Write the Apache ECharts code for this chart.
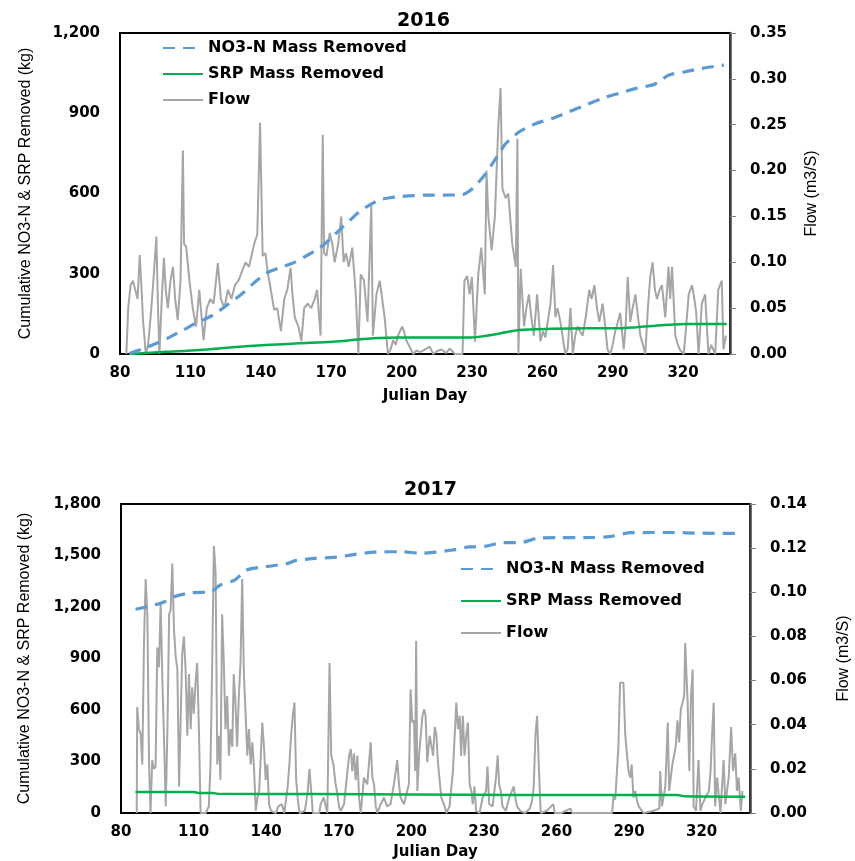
<!DOCTYPE html>
<html>
<head>
<meta charset="utf-8">
<script src="https://cdn.jsdelivr.net/npm/echarts@6/dist/echarts.min.js"></script>
<style>
html,body{margin:0;padding:0;background:#fff;}
#chart{width:855px;height:861px;}
</style>
</head>
<body>
<div id="chart"></div>
<script>
// ---------- data ----------
const legendNames = ['NO3-N Mass Removed', 'SRP Mass Removed', 'Flow'];
const xTicks = [80, 110, 140, 170, 200, 230, 260, 290, 320];

// 2016 cumulative NO3-N removed (kg) [julian day, kg]
const no3_2016 = [[84,2],[90,20],[95.6,40],[101,62],[107,90],[113,118],[119.7,146],[126,185],[132.4,228],[137,265],[142.4,302],[148,322],[153.7,340],[159,365],[165,396],[169,425],[173.6,464],[178,500],[182,532],[186,555],[190.6,576],[195,584],[199,588],[205,592],[210.5,594],[218,594],[226,596],[229,610],[231.8,632],[236,676],[239,715],[241.7,751],[244,782],[246,800],[250.2,831],[254,848],[257.3,862],[264.4,881],[271.5,906],[278.6,931],[285.7,956],[292.8,975],[299.9,993],[307,1006],[310,1020],[314,1043],[321,1055],[328,1068],[337.4,1080]];
// 2016 cumulative SRP removed (kg)
const srp_2016 = [[84,0],[100,8],[114,15],[128,25],[142.4,34],[156,40],[170.7,46],[180,53],[187.7,59],[199,62],[215,62],[229,62],[232.7,64],[238.4,71],[245.5,83],[250,90],[264,94],[278.6,96],[292.8,96],[300,100],[307,105],[314,109],[321,112],[338.6,112]];
// 2016 flow (m3/s)
const flow_2016 = [[82.7,0],[83.5,0.05],[84.5,0.075],[85.5,0.08],[86.5,0.07],[87.5,0.06],[88.4,0.108],[89.2,0.07],[89.8,0.037],[91,0],[92,0.01],[93.3,0.048],[94.5,0.09],[95.5,0.128],[96.2,0.05],[96.8,0],[97.8,0.06],[98.7,0.105],[99.5,0.07],[100.4,0.05],[101.5,0.08],[102.6,0.095],[103.5,0.06],[104.6,0.037],[105.8,0.08],[106.8,0.222],[107.3,0.12],[108.2,0.117],[109.6,0.08],[111,0.05],[112.4,0.03],[113.8,0.07],[115.6,0.015],[117,0.05],[118.5,0.06],[119.9,0.055],[121.7,0.099],[123,0.06],[124.5,0.05],[126,0.07],[127.5,0.06],[129,0.075],[130.5,0.08],[132,0.09],[133.5,0.1],[135,0.095],[136.3,0.11],[137.3,0.121],[138.5,0.13],[139.7,0.252],[140.8,0.107],[142,0.11],[142.9,0.09],[144.3,0.07],[145.7,0.048],[147,0.05],[148.6,0.025],[150,0.06],[151.3,0.07],[152.7,0.094],[153.5,0.065],[154.5,0.04],[156,0.03],[157.3,0.014],[158.5,0.05],[160,0.055],[161.5,0.05],[163,0.06],[164,0.07],[165.5,0.02],[166.4,0.239],[167,0.11],[168,0.107],[169.4,0.132],[170.5,0.12],[171.5,0.1],[173,0.12],[174.3,0.15],[175.3,0.1],[176.3,0.11],[177.5,0.095],[179,0.116],[180.5,0.065],[181.6,0],[182.6,0.087],[184,0.08],[185.5,0.035],[187.1,0.162],[187.8,0.02],[189.3,0.065],[190.7,0.08],[192.8,0.04],[194.2,0],[195.3,0.005],[196.4,0.015],[197.5,0.01],[198.5,0.02],[200.3,0.03],[201,0.025],[202,0.015],[203.4,0.008],[205,0],[206.3,0.004],[208,0.002],[210,0.005],[212,0.008],[213.5,0],[215,0.003],[217,0.005],[219,0.001],[220.5,0.006],[222.7,0],[226,0],[226.8,0.08],[228,0.085],[229,0.065],[230,0.084],[231.3,0.0135],[232.7,0.087],[234,0.116],[235.5,0.065],[236.2,0.2],[237,0.15],[238.4,0.113],[239.8,0.15],[241.2,0.246],[242.2,0.29],[243,0.18],[244.4,0.17],[245.5,0.175],[247.2,0.12],[248.7,0.095],[249.4,0.235],[249.8,0],[250.8,0.093],[252.2,0.03],[253.2,0.05],[254.3,0.065],[255.3,0.04],[256.4,0.02],[257.8,0.065],[259.2,0.014],[260.3,0.025],[261.3,0.018],[263.5,0.055],[264.6,0.097],[265.6,0.04],[266.5,0.05],[267.7,0.035],[269.8,0],[270.8,0.005],[272,0.05],[273,0],[274,0.02],[275,0.03],[276,0.025],[277.2,0.02],[278.5,0.04],[280,0.07],[281,0.06],[282.2,0.075],[283.3,0.05],[284.3,0.035],[285.7,0.055],[286.8,0.03],[287.8,0.005],[289,0],[290,0.01],[291.1,0.025],[292.2,0.035],[293.2,0.045],[294.7,0.005],[295.5,0.03],[296.4,0.084],[297.5,0.035],[298.5,0.05],[299.7,0.065],[300.8,0.04],[301.8,0.02],[302.9,0.01],[303.9,0],[305,0.05],[306,0.084],[307,0.1],[308,0.07],[308.9,0.06],[310,0.07],[311,0.075],[312.4,0.04],[313.8,0.095],[314.5,0.06],[315.3,0.095],[316.7,0.02],[317.8,0.01],[318.8,0.004],[320.3,0],[321.3,0.03],[322.4,0.065],[323.8,0.075],[324.8,0.06],[325.6,0.045],[326.6,0],[328,0.055],[329.4,0.065],[330.8,0],[332,0.01],[333.7,0],[335,0.07],[336.5,0.08],[337.2,0.005],[338.3,0.02]];

// 2017 cumulative NO3-N removed (kg)
const no3_2017 = [[86,1187],[94,1212],[98,1231],[102,1260],[109,1283],[117,1289],[121,1328],[127,1357],[132,1415],[140,1435],[149,1454],[152,1470],[160,1483],[169,1490],[176,1505],[185,1520],[196,1522],[204,1513],[210,1520],[217,1532],[224,1550],[231,1555],[238,1575],[245,1575],[252,1600],[260,1604],[272,1604],[282,1610],[291,1633],[307,1634],[320,1630],[336,1629]];
// 2017 cumulative SRP removed (kg)
const srp_2017 = [[86,122],[110,122],[112,117],[118,117],[120,112],[160,110],[200,108],[245,105],[310,105],[313,97],[338,95]];
// 2017 flow (m3/s)
const flow_2017 = [[86.5,0],[86.7,0.048],[87.4,0.038],[88.1,0.036],[88.8,0.022],[89.5,0.077],[90.2,0.106],[90.9,0.09],[91.6,0.022],[92.2,0],[92.9,0.024],[93.6,0.02],[94.3,0.021],[95,0.075],[95.7,0.066],[96.4,0.095],[97.1,0.06],[97.8,0.033],[98.5,0.003],[99.2,0.038],[99.9,0.09],[100.5,0.092],[101.2,0.113],[101.9,0.083],[102.6,0.071],[103.3,0.065],[104,0.012],[104.6,0.012],[105.3,0.072],[106,0.08],[106.7,0.065],[107.4,0.035],[108.1,0.063],[108.8,0.038],[109.4,0.057],[110.1,0.045],[110.8,0.059],[111.5,0.068],[112.2,0.038],[112.9,0],[115,0],[116.3,0.003],[117,0.022],[117.7,0.068],[118.4,0.121],[119.1,0.109],[119.8,0.022],[120.5,0.035],[121.1,0.015],[121.8,0.09],[122.5,0.068],[123.2,0.038],[123.9,0.053],[124.6,0.026],[125.3,0.038],[126,0.03],[126.6,0.063],[127.3,0.05],[128,0.03],[128.7,0.053],[129.4,0.068],[130.1,0.106],[130.8,0.063],[131.5,0.045],[132.2,0.026],[132.9,0.038],[133.6,0.022],[134.3,0.032],[135,0.02],[135.7,0.001],[136.4,0.007],[137.1,0.01],[137.8,0.026],[138.4,0.041],[139.1,0.03],[139.8,0.015],[140.5,0.022],[141.2,0.004],[142,0.001],[144,0],[145,0.003],[146.5,0.004],[147.5,0],[148.9,0.012],[149.6,0.022],[150.3,0.035],[151,0.044],[151.7,0.05],[152.4,0.015],[153.1,0.006],[153.8,0],[156,0.001],[157.2,0.01],[157.9,0.02],[158.6,0.01],[159.3,0],[162,0],[162.5,0.004],[163.8,0.007],[165.3,0],[166.2,0.068],[166.9,0.026],[167.8,0.022],[168.7,0.013],[169.4,0.009],[170.1,0.003],[170.8,0.001],[172.2,0.004],[173.6,0.019],[174.3,0.026],[175,0.029],[175.6,0.019],[176.3,0.027],[177,0.015],[177.7,0.026],[178.4,0.007],[179.1,0],[179.7,0.007],[180.4,0.016],[181.8,0.013],[183.2,0.032],[183.9,0.016],[184.6,0.013],[185.3,0.003],[186,0],[187.3,0.004],[188.7,0.007],[190,0.003],[191.4,0.004],[192.8,0.013],[194.2,0.024],[194.9,0.013],[195.6,0.007],[197,0.004],[198.3,0.01],[199,0.013],[199.7,0.056],[200.4,0.041],[201.1,0.042],[201.6,0.019],[202,0.078],[202.5,0.01],[203.2,0.026],[203.9,0.035],[204.6,0.044],[205.3,0.047],[205.9,0.044],[206.6,0.023],[207.6,0.035],[209,0.026],[209.7,0.039],[210.4,0.035],[211,0.023],[212.4,0.007],[213.8,0.003],[214.5,0],[215.8,0.003],[217.2,0.019],[218.6,0.05],[219.3,0.038],[220,0.044],[220.6,0.026],[221.3,0.044],[222,0.026],[222.7,0.035],[223.4,0.041],[224.1,0.013],[224.8,0.01],[225.4,0.004],[226.1,0.012],[226.8,0.001],[228.2,0],[229.5,0.007],[230.9,0.01],[231.5,0.021],[232.2,0.004],[233.6,0.003],[235,0.016],[235.7,0.026],[236.3,0.013],[237,0.01],[237.7,0.003],[239.1,0.001],[240.5,0.007],[242.3,0.012],[243,0.007],[243.7,0.003],[245,0.001],[247,0],[249,0.002],[250,0.006],[250.6,0.012],[251.3,0.035],[252,0.044],[252.6,0.024],[253.5,0],[256,0.001],[258.7,0.004],[259.3,0],[262,0],[265.8,0.002],[266.5,0],[283,0],[283.6,0.008],[284.3,0.006],[285.6,0.03],[286.3,0.059],[287.7,0.059],[288.4,0.036],[289.1,0.027],[289.8,0.019],[290.5,0.016],[291.1,0.022],[291.8,0.007],[292.6,0.01],[293.2,0.006],[294,0.003],[296,0],[300.2,0.001],[302.5,0.002],[302.9,0.019],[303.6,0.003],[305,0.012],[306,0.041],[306.6,0.01],[307.9,0.022],[309.3,0.03],[310,0.042],[310.7,0.032],[311.4,0.047],[312.1,0.05],[312.8,0.053],[313.2,0.077],[314.2,0.051],[314.9,0.019],[315.6,0.053],[316.3,0.065],[316.7,0.003],[317.7,0.001],[318.7,0.024],[319.5,0.001],[320.3,0.004],[321.6,0.007],[323,0.01],[323.7,0.019],[324.3,0.035],[325,0.05],[325.6,0.003],[326.4,0.016],[327.8,0],[329.1,0.024],[329.8,0.004],[331.2,0.016],[332.2,0.039],[333,0.019],[333.9,0.027],[334.6,0.01],[335.3,0.016],[336.2,0.001],[336.9,0.01]];

// ---------- chart ----------
const BOLD = 'DejaVu Sans';
const NAMEFONT = '"Liberation Sans", Arial, sans-serif';
const C_NO3 = '#5b9bd5', C_SRP = '#00b050', C_FLOW = '#a6a6a6';

function xAxis(gi) {
  return {
    type: 'value', gridIndex: gi, min: 80, max: 340, interval: 30,
    name: 'Julian Day', nameLocation: 'middle', nameGap: gi === 0 ? 35 : 32,
    nameTextStyle: { fontFamily: BOLD, fontWeight: 'bold', fontSize: 15, color: '#000' },
    axisLine: { show: false }, axisTick: { show: false }, splitLine: { show: false },
    axisLabel: { fontFamily: BOLD, fontWeight: 'bold', fontSize: 15, color: '#000', margin: 12, showMaxLabel: false }
  };
}
function yLeft(gi, max, gap) {
  return {
    type: 'value', gridIndex: gi, min: 0, max: max, interval: 300, position: 'left',
    name: 'Cumulative NO3-N & SRP Removed (kg)', nameLocation: 'middle', nameGap: gap,
    nameTextStyle: { fontFamily: NAMEFONT, fontSize: 16, color: '#000' },
    axisLine: { show: false }, axisTick: { show: false }, splitLine: { show: false },
    axisLabel: { fontFamily: BOLD, fontWeight: 'bold', fontSize: 15, color: '#000', margin: 20,
      formatter: v => v.toLocaleString('en-US') }
  };
}
function yRight(gi, max, interval, gap) {
  return {
    type: 'value', gridIndex: gi, min: 0, max: max, interval: interval, position: 'right',
    name: 'Flow (m3/S)', nameLocation: 'middle', nameGap: gap, nameRotate: 90,
    nameTextStyle: { fontFamily: NAMEFONT, fontSize: 16, color: '#000' },
    axisLine: { show: true, lineStyle: { color: '#404040', width: 2.5 } },
    axisTick: { show: true, length: 6, lineStyle: { color: '#808080', width: 1 } },
    splitLine: { show: false },
    axisLabel: { fontFamily: BOLD, fontWeight: 'bold', fontSize: 15, color: '#000', margin: 20,
      formatter: v => v.toFixed(2) }
  };
}
function legend(left, top, gap) {
  return {
    data: legendNames, orient: 'vertical', left: left, top: top, padding: 0,
    itemWidth: 40, itemHeight: 14, itemGap: gap,
    itemStyle: { opacity: 0 },
    textStyle: { fontFamily: BOLD, fontWeight: 'bold', fontSize: 16, color: '#000' }
  };
}
function lines(gi, no3, srp, flow) {
  return [
    { name: legendNames[2], type: 'line', xAxisIndex: gi, yAxisIndex: gi * 2 + 1, data: flow,
      symbol: 'none', lineStyle: { color: C_FLOW, width: 2 }, itemStyle: { color: C_FLOW }, z: 2 },
    { name: legendNames[1], type: 'line', xAxisIndex: gi, yAxisIndex: gi * 2, data: srp, smooth: 0.3,
      symbol: 'none', lineStyle: { color: C_SRP, width: 2.5 }, itemStyle: { color: C_SRP }, z: 3 },
    { name: legendNames[0], type: 'line', xAxisIndex: gi, yAxisIndex: gi * 2, data: no3, smooth: 0.3,
      symbol: 'none', lineStyle: { color: C_NO3, width: 3.2, type: [12, 8] }, itemStyle: { color: C_NO3 }, z: 4 }
  ];
}

const chart = echarts.init(document.getElementById('chart'), null, { renderer: 'canvas' });
chart.setOption({
  animation: false,
  backgroundColor: '#fff',
  title: [
    { text: '2016', left: 392, top: 7, textStyle: { fontFamily: BOLD, fontWeight: 'bold', fontSize: 19, color: '#000' } },
    { text: '2017', left: 399, top: 476, textStyle: { fontFamily: BOLD, fontWeight: 'bold', fontSize: 19, color: '#000' } }
  ],
  legend: [legend(162, 40, 10), legend(460, 561, 16)],
  grid: [
    { left: 120, right: 125, top: 33, bottom: 507, outerBoundsMode: 'none', show: true, borderColor: '#000', borderWidth: 2, backgroundColor: '#fff' },
    { left: 121, right: 105, top: 504, bottom: 48, outerBoundsMode: 'none', show: true, borderColor: '#000', borderWidth: 2, backgroundColor: '#fff' }
  ],
  xAxis: [xAxis(0), xAxis(1)],
  yAxis: [yLeft(0, 1200, 86), yRight(0, 0.35, 0.05, 74), yLeft(1, 1800, 88), yRight(1, 0.14, 0.02, 86)],
  series: [].concat(lines(0, no3_2016, srp_2016, flow_2016), lines(1, no3_2017, srp_2017, flow_2017))
});
</script>
</body>
</html>
